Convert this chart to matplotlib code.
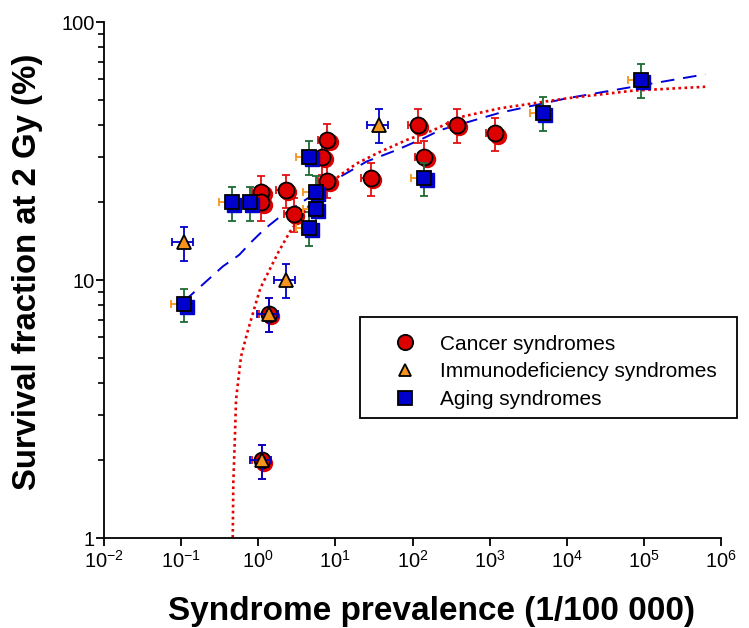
import matplotlib
matplotlib.use("Agg")
import matplotlib.pyplot as plt
from matplotlib.transforms import ScaledTranslation
from matplotlib.ticker import FixedLocator, LogLocator, NullFormatter, FixedFormatter
from matplotlib.lines import Line2D
from matplotlib.patches import Rectangle

plt.rcParams['font.family'] = ['Liberation Sans', 'DejaVu Sans']
plt.rcParams['mathtext.default'] = 'regular'

# ---------------- data ----------------
cancer_x = [1.1, 1.1, 2.3, 2.9, 7.9, 6.8, 7.9, 29, 117, 380, 1190, 143, 1.38, 1.12]
cancer_y = [22, 20, 22.3, 18, 35, 30, 24.3, 24.8, 40, 40, 37, 30, 7.4, 2.0]
cancer_xerr = [0.28, 0.28, 0.58, 0.73, 2.0, 1.7, 2.0, 7.3, 29, 95, 300, 36, 0.35, 0.28]
cancer_yerr = [3.3, 3.0, 3.3, 2.7, 5.2, 4.5, 3.6, 3.7, 6.0, 6.0, 5.5, 4.5, 1.1, 0.3]

immuno_x = [0.11, 37, 2.3, 1.38, 1.12]
immuno_y = [14, 40, 10, 7.4, 2.0]
immuno_xerr = [0.033, 11, 0.7, 0.41, 0.34]
immuno_yerr = [2.1, 6.0, 1.5, 1.1, 0.3]

aging_x = [0.11, 0.45, 0.78, 4.6, 5.6, 5.6, 4.6, 143, 4900, 91000]
aging_y = [8.05, 20, 20, 30, 22, 18.8, 15.9, 24.8, 44.5, 59.6]
aging_xerr = [0.035, 0.14, 0.25, 1.5, 1.8, 1.8, 1.5, 46, 1570, 29000]
aging_yerr = [1.2, 3.0, 3.0, 4.5, 3.3, 2.8, 2.4, 3.7, 6.7, 9.0]

# fitted curves
aging_fit_x = [0.11, 0.156, 0.349, 0.564, 0.824, 1.22, 1.92, 11.5, 25.5, 62.5, 138, 228,
               1368, 10000, 72600, 624000]
aging_fit_y = [8.3, 9.1, 11.3, 12.5, 14.1, 15.8, 17.6, 25.1, 28.8, 31.9, 35.4, 38.1,
               44.5, 50.6, 56.1, 62.7]
cancer_fit_x = [0.463, 0.467, 0.475, 0.500, 0.515, 0.542, 0.598, 0.716, 0.889, 1.064, 1.368,
                1.845, 2.58, 5.50, 11.5, 19.0, 38.0, 84.3, 187, 414, 1368, 10000, 73300, 624000]
cancer_fit_y = [0.9, 1.0, 1.63, 2.55, 3.43, 3.92, 5.05, 6.21, 7.76, 9.29, 10.8,
                12.9, 15.4, 20.9, 25.5, 28.3, 31.4, 34.9, 38.1, 42.8, 46.3, 50.6, 54.2, 56.1]

series_labels = ["Cancer syndromes", "Immunodeficiency syndromes", "Aging syndromes"]
x_label = "Syndrome prevalence (1/100 000)"
y_label = "Survival fraction at 2 Gy (%)"
y_ticks = [1, 10, 100]
y_ticklabels = ["1", "10", "100"]

# ---------------- styling ----------------
RED = '#dd0000'
ORANGE = '#f7941d'
BLUE = '#0000cc'
GREEN = '#1e6b34'

fig = plt.figure(figsize=(7.49, 6.28), dpi=100)
ax = fig.add_axes([104/749, 1 - 538/628, 617/749, 516/628])
ax.set_xscale('log')
ax.set_yscale('log')
ax.set_xlim(1e-2, 1e6)
ax.set_ylim(1, 100)

shadow = ax.transData + ScaledTranslation(1.6/72, -1.6/72, fig.dpi_scale_trans)

# fit lines
l1, = ax.plot(aging_fit_x, aging_fit_y, color='#0000dd', lw=1.4, zorder=1.5)
l1.set_dashes([7, 4.5])
l2, = ax.plot(cancer_fit_x, cancer_fit_y, color='#e60000', lw=1.9, zorder=1.6)
l2.set_dashes([1.0, 1.3])

eb_kw = dict(fmt='none', elinewidth=1.3, capsize=3.2, capthick=1.3)

# cancer
ax.errorbar(cancer_x, cancer_y, xerr=cancer_xerr, yerr=cancer_yerr, ecolor='#e31010',
            zorder=2, **eb_kw)
ax.plot(cancer_x, cancer_y, ls='none', marker='o', ms=11.5, mfc=RED, mec=RED,
        transform=shadow, zorder=2.1)
ax.plot(cancer_x, cancer_y, ls='none', marker='o', ms=11.5, mfc=RED, mec='black',
        mew=1.3, zorder=2.2)

# immunodeficiency
ax.errorbar(immuno_x, immuno_y, xerr=immuno_xerr, yerr=immuno_yerr, ecolor=BLUE,
            zorder=3, **eb_kw)
ax.plot(immuno_x, immuno_y, ls='none', marker='^', ms=10, mfc=ORANGE, mec='black',
        mew=1.3, zorder=3.2)

# aging
ax.errorbar(aging_x, aging_y, xerr=aging_xerr, ecolor=ORANGE, zorder=4, **eb_kw)
ax.errorbar(aging_x, aging_y, yerr=aging_yerr, ecolor=GREEN, zorder=4, **eb_kw)
ax.plot(aging_x, aging_y, ls='none', marker='s', ms=10.5, mfc=BLUE, mec=BLUE,
        transform=shadow, zorder=4.1)
ax.plot(aging_x, aging_y, ls='none', marker='s', ms=10.5, mfc=BLUE, mec='black',
        mew=1.3, zorder=4.2)

# axes styling
for s in ['top', 'right']:
    ax.spines[s].set_visible(False)
for s in ['left', 'bottom']:
    ax.spines[s].set_linewidth(1.3)

ax.xaxis.set_major_locator(LogLocator(base=10, numticks=20))
ax.xaxis.set_minor_locator(FixedLocator([]))
ax.yaxis.set_major_locator(FixedLocator(y_ticks))
ax.yaxis.set_major_formatter(FixedFormatter(y_ticklabels))
ax.yaxis.set_minor_locator(LogLocator(base=10, subs=[2, 3, 4, 5, 6, 7, 8, 9], numticks=20))
ax.yaxis.set_minor_formatter(NullFormatter())
ax.tick_params(which='major', direction='out', length=6, width=1.3, labelsize=14.5,
               colors='black', pad=2.5)
ax.tick_params(axis='y', which='major', pad=0.8)
ax.tick_params(which='minor', direction='out', length=4, width=1.2)

ax.set_xlabel(x_label, fontsize=24, fontweight='bold')
ax.set_ylabel(y_label, fontsize=23.7, fontweight='bold')
ax.xaxis.set_label_coords((432 - 104) / 617, (538 - 596) / 516)
ax.yaxis.set_label_coords((43 - 104) / 617, (538 - 272) / 516)

# legend (frame drawn as a separate rectangle)
fig.add_artist(Rectangle((360/749, 1 - 418/628), 377/749, 101/628,
                         transform=fig.transFigure, facecolor='white',
                         edgecolor='black', lw=1.3, zorder=5))
handles = [
    Line2D([], [], ls='none', marker='o', ms=11, mfc=RED, mec='black', mew=1.3),
    Line2D([], [], ls='none', marker='^', ms=9, mfc=ORANGE, mec='black', mew=1.3),
    Line2D([], [], ls='none', marker='s', ms=10.5, mfc=BLUE, mec='black', mew=1.3),
]
leg = fig.legend(handles, series_labels, loc='upper left',
                 bbox_to_anchor=(360/749, 1 - 322/628),
                 bbox_transform=fig.transFigure,
                 fontsize=15, frameon=False,
                 borderpad=0.6, handlelength=3.1,
                 handletextpad=0.15, labelspacing=0.42, borderaxespad=0)
leg.set_zorder(6)

fig.savefig('out.png', dpi=100)
